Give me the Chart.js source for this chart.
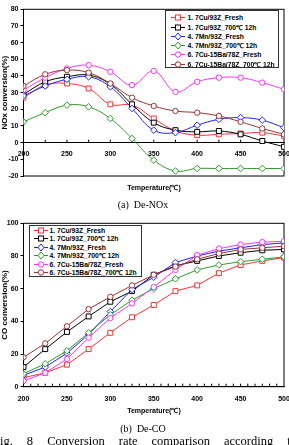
<!DOCTYPE html>
<html><head><meta charset="utf-8">
<script src="https://cdn.jsdelivr.net/npm/chart.js@4/dist/chart.umd.min.js"></script>
<style>
html,body{margin:0;padding:0;background:#fff;width:289px;height:445px;overflow:hidden;position:relative;font-family:"Liberation Sans",Arial,sans-serif;}
#w1{position:absolute;left:0;top:0;width:289px;height:196px;}
#w2{position:absolute;left:0;top:210px;width:289px;height:200px;}
.legend{position:absolute;border:1px solid #333;background:#fff;box-sizing:border-box;}
.lrow{position:absolute;height:9px;line-height:9px;white-space:nowrap;font-weight:bold;font-size:6.8px;letter-spacing:-0.05px;color:#000;}
.lrow svg{position:absolute;top:0;}
.xt{position:absolute;left:0;width:308px;text-align:center;font-weight:bold;font-size:7px;line-height:9px;color:#000;}
.cap{position:absolute;left:-1.5px;width:289px;text-align:center;font-family:"Liberation Serif","Times New Roman",serif;font-size:10px;line-height:12px;white-space:pre;color:#000;}
.fig{position:absolute;left:-7px;width:304px;top:434px;font-family:"Liberation Serif","Times New Roman",serif;font-size:12.5px;line-height:14px;color:#000;white-space:nowrap;}
</style>
</head>
<body>
<div id="w1"><canvas id="c1"></canvas></div>
<div id="w2"><canvas id="c2"></canvas></div>
<div class="xt" style="top:183px;">Temperature(℃)</div>
<div class="xt" style="top:406px;">Temperature(℃)</div>
<div class="cap" style="top:199px;">(a)  De-NOx</div>
<div class="cap" style="top:423px;">(b)  De-CO</div>
<div class="fig" style="display:flex;justify-content:space-between;"><span>Fig.</span><span>8</span><span>Conversion</span><span>rate</span><span>comparison</span><span>according</span><span>to</span></div>
<script>
// ---- data ----
const temps = [200,225,250,275,300,325,350,375,400,425,450,475,500];
const tempTickLabels = [200,250,300,350,400,450,500];
const noxYTicks = [-20,-10,0,10,20,30,40,50,60,70,80];
const coYTicks = [0,20,40,60,80,100];
const seriesNames = ["1. 7Cu/93Z_Fresh","1. 7Cu/93Z_700℃ 12h","4. 7Mn/93Z_Fresh","4. 7Mn/93Z_700℃ 12h","6. 7Cu-15Ba/78Z_Fresh","6. 7Cu-15Ba/78Z_700℃ 12h"];

const noxCuFresh   = [27, 34.5, 35.5, 32.5, 23, 22.5, 14.5, 7, 4.5, 5, 5.5, 6, 4];
const noxCuAged    = [29, 36.5, 39.5, 40.5, 35, 23, 12, 7.5, 6.5, 7, 5, 1, -2.5];
const noxMnFresh   = [28, 34, 38, 39.5, 33.5, 20.5, 7.5, 6, 10.5, 14, 15, 13.5, 9];
const noxMnAged    = [12.5, 18, 22.5, 21.5, 14.5, 2.5, -10.5, -17, -15.5, -15.5, -15.5, -15.5, -15.5];
const noxCuBaFresh = [31.5, 39, 44.5, 46.5, 42.5, 34.5, 43, 30.5, 36.5, 39, 39, 36, 32];
const noxCuBaAged  = [34, 41, 43.5, 42, 35.5, 27, 22, 19, 18, 16, 12.5, 8.5, 5];

const coCuFresh   = [5.5, 8.5, 13.5, 23, 33, 42.5, 50, 58.5, 62, 69.5, 74.5, 77, 79];
const coCuAged    = [12, 23, 33.5, 43, 52, 58.5, 68.5, 74, 77, 80, 82, 83.5, 84];
const coMnFresh   = [7, 12, 20.5, 32, 46, 59.5, 67, 76, 80, 83, 85, 87, 88];
const coMnAged    = [8, 14, 22, 33, 44, 53, 60, 66, 71.5, 74.5, 76.5, 78, 79.5];
const coCuBaFresh = [3.5, 8.5, 17, 30, 42, 51, 61, 71.5, 80.5, 84.5, 87, 88.5, 89];
const coCuBaAged  = [18, 26.5, 37, 47.5, 55, 62, 68.5, 73.5, 78, 81.5, 84, 85, 86];

// ---- styles ----
const colors = ['#ff3333','#000000','#2222ff','#2e9a2e','#ff33ff','#993333'];
const shapes = ['rect','rect','rectRot','rectRot','circle','circle'];
const radii = [3.5,3.5,3.3,3.3,2.7,2.7];

function makeSets(arrs, tension){
  return arrs.map((d,i)=>({
    label: seriesNames[i],
    data: temps.map((t,j)=>({x:t,y:d[j]})),
    borderColor: colors[i], backgroundColor:'#fff',
    borderWidth: 1, tension: tension,
    pointStyle: shapes[i], pointRadius: radii[i], pointBorderWidth: 1,
    pointBackgroundColor:'#fff', pointBorderColor: colors[i],
    order: 6-i
  }));
}

const framePlugin = {
  id:'frame',
  beforeDatasetsDraw(chart, args, opts){
    const {ctx, chartArea:a, scales} = chart;
    ctx.save();
    ctx.strokeStyle='#000'; ctx.lineWidth=1;
    ctx.strokeRect(a.left, a.top, a.right-a.left, a.bottom-a.top);
    const base = (opts.base !== undefined) ? scales.y.getPixelForValue(opts.base) : a.bottom;
    ctx.beginPath();
    for (const v of opts.minor){
      const px = scales.x.getPixelForValue(v);
      ctx.moveTo(px, base); ctx.lineTo(px, base - opts.len);
    }
    ctx.stroke();
    ctx.restore();
  }
};

const tickFont = {family:'"Liberation Sans", Arial, sans-serif', weight:'bold', size:7};
const titleFont = {family:'"Liberation Sans", Arial, sans-serif', weight:'bold', size:8};

function common(yTicks, ymin, ymax, ytitle, xOpts, pad, minor, base){
  return {
    type:'line',
    options:{
      responsive:true, maintainAspectRatio:false, animation:false,
      layout:{padding:pad},
      plugins:{legend:{display:false}, tooltip:{enabled:false}, frame:{minor:minor, len:3, base:base}},
      scales:{
        x: Object.assign({
          type:'linear', min:200, max:500,
          afterBuildTicks: s => { s.ticks = tempTickLabels.map(v=>({value:v})); },
          ticks:{font:tickFont, color:'#000', maxRotation:0, autoSkip:false},
          grid:{display:false, drawTicks:false},
          border:{display:true, color:'#000', width:1}
        }, xOpts),
        y:{
          min:ymin, max:ymax,
          afterBuildTicks: s => { s.ticks = yTicks.map(v=>({value:v})); },
          afterFit: s => { s.width = 23.5; s.paddingTop = 0; s.paddingBottom = 0; },
          ticks:{font:tickFont, color:'#000', padding:2},
          grid:{drawOnChartArea:false, drawTicks:true, tickLength:3, color:'#000'},
          border:{display:true, color:'#000', width:1},
          title:{display:true, text:ytitle, font:titleFont, color:'#000', padding:0}
        }
      }
    }
  };
}

const cfg1 = common(noxYTicks, -20, 80, 'NOx conversion(%)',
  {position:{y:0}, ticks:{font:tickFont, color:'#000', maxRotation:0, autoSkip:false, padding:7},
   afterFit: s => { s.paddingLeft = 0; s.paddingRight = 0; }},
  {top:9.3, right:5, bottom:20, left:0}, temps.slice(1,-1), 0);
cfg1.data = {datasets: makeSets([noxCuFresh,noxCuAged,noxMnFresh,noxMnAged,noxCuBaFresh,noxCuBaAged], 0.4)};
cfg1.plugins = [framePlugin];
new Chart(document.getElementById('c1'), cfg1);

const minorCO = [];
for (let k=1;k<36;k++) minorCO.push(200 + k*50/6);
const cfg2 = common(coYTicks, 0, 100, 'CO conversion(%)',
  {position:'bottom', ticks:{font:tickFont, color:'#000', maxRotation:0, autoSkip:false, padding:8},
   afterFit: s => { s.height = 23.3; s.paddingLeft = 0; s.paddingRight = 0; }},
  {top:13.3, right:5, bottom:0, left:0}, minorCO, undefined);
cfg2.data = {datasets: makeSets([coCuFresh,coCuAged,coMnFresh,coMnAged,coCuBaFresh,coCuBaAged], 0)};
cfg2.plugins = [framePlugin];
new Chart(document.getElementById('c2'), cfg2);

// ---- legends (HTML) ----
function markerSVG(i){
  const c = colors[i];
  let m;
  if (shapes[i]==='rect') m = `<rect x="4.5" y="2" width="5" height="5" fill="#fff" stroke="${c}" stroke-width="1"/>`;
  else if (shapes[i]==='rectRot') m = `<polygon points="7,1 10,4.5 7,8 4,4.5" fill="#fff" stroke="${c}" stroke-width="1"/>`;
  else m = `<circle cx="7" cy="4.5" r="2.7" fill="#fff" stroke="${c}" stroke-width="1"/>`;
  return `<svg width="14" height="9" viewBox="0 0 14 9"><line x1="0" y1="4.5" x2="14" y2="4.5" stroke="${c}" stroke-width="1.1"/>${m}</svg>`;
}
function buildLegend(box, rowStart, rowStep, lineX, textX){
  const el = document.createElement('div');
  el.className='legend';
  Object.assign(el.style, {left:box[0]+'px', top:box[1]+'px', width:box[2]+'px', height:box[3]+'px'});
  seriesNames.forEach((n,i)=>{
    const r = document.createElement('div');
    r.className='lrow';
    r.style.top = (rowStart + i*rowStep - 4.5 - 1) + 'px';
    r.style.left = '0px';
    r.innerHTML = `<span style="position:absolute;left:${lineX}px;top:0">${markerSVG(i)}</span><span style="position:absolute;left:${textX}px;top:0">${n}</span>`;
    el.appendChild(r);
  });
  document.body.appendChild(el);
}
buildLegend([165,10,114,58], 7.7, 9.3, 4.5, 21.5);
buildLegend([29,225,113,52], 5, 8.5, 3.5, 19.5);
</script>
</body></html>
